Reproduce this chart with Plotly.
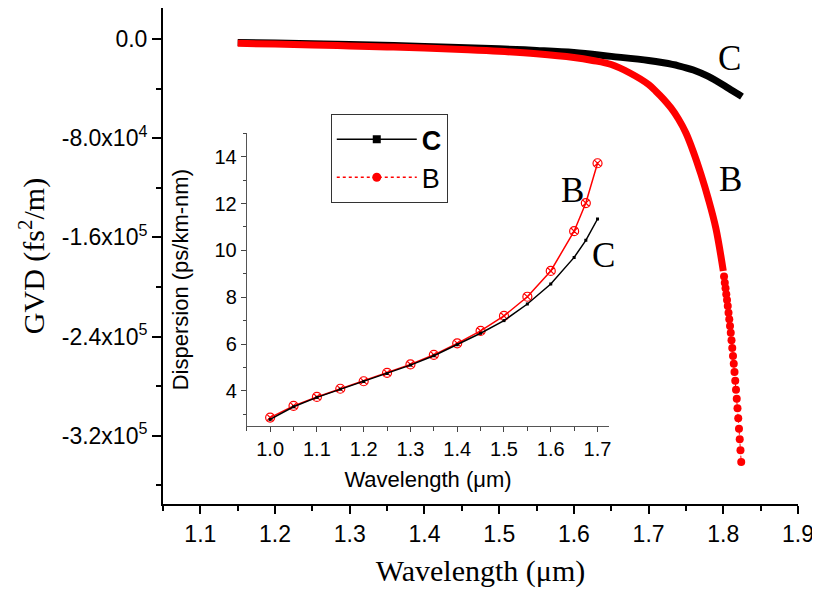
import plotly.graph_objects as go

# ---- main plot data: GVD (fs^2/m) vs wavelength (um) ----
c_wl = [1.15, 1.2, 1.3, 1.4, 1.5, 1.55, 1.6, 1.65, 1.7, 1.72, 1.74, 1.76, 1.78, 1.79, 1.8, 1.81, 1.82, 1.825]
c_gvd = [-2800, -3300, -4400, -6000, -7900, -9200, -10900, -14000, -17300, -19200, -21600, -25000,
         -30200, -33500, -37100, -40900, -44600, -46500]

b_wl = [1.15, 1.2, 1.25, 1.3, 1.35, 1.4, 1.45, 1.5, 1.55, 1.6, 1.625, 1.65, 1.675, 1.7, 1.71, 1.72,
        1.73, 1.74, 1.75, 1.76, 1.77, 1.78, 1.79, 1.8]
b_gvd = [-3500, -4100, -4800, -5600, -6400, -7300, -8500, -9900, -11900, -14900, -17300, -20600,
         -27400, -36700, -42300, -48400, -55600, -64500, -75800, -91100, -108900, -129000, -152400, -187100]

b_tail_wl = [1.801, 1.802, 1.803, 1.804, 1.805, 1.806, 1.807, 1.808, 1.809, 1.810, 1.811, 1.812,
             1.813, 1.814, 1.815, 1.816, 1.817, 1.818, 1.819, 1.820, 1.821, 1.822, 1.823, 1.824]
b_tail_gvd = [-191500, -196500, -201000, -205900, -210500, -215300, -220700, -226000, -231500,
              -236900, -243000, -249200, -255600, -261900, -268500, -275600, -282800, -290100,
              -297800, -305900, -314300, -322800, -331700, -341100]

# ---- inset data: Dispersion (ps/km-nm) ----
inset_wl = [1.0, 1.05, 1.1, 1.15, 1.2, 1.25, 1.3, 1.35, 1.4, 1.45, 1.5, 1.55, 1.6, 1.65, 1.675, 1.7]
disp_b = [2.86, 3.36, 3.74, 4.09, 4.41, 4.77, 5.13, 5.54, 6.03, 6.56, 7.2, 8.02, 9.12, 10.82, 12.02, 13.72]
disp_c = [2.78, 3.32, 3.72, 4.07, 4.4, 4.74, 5.1, 5.5, 5.97, 6.46, 7.0, 7.71, 8.56, 9.70, 10.43, 11.34]

y_tickvals = [0, -80000, -160000, -240000, -320000]
y_ticktext = ["0.0", "-8.0x10<sup>4</sup>", "-1.6x10<sup>5</sup>", "-2.4x10<sup>5</sup>", "-3.2x10<sup>5</sup>"]
inset_yticks = [4, 6, 8, 10, 12, 14]

SANS = "Liberation Sans, Arial, sans-serif"
SERIF = "Liberation Serif, Times New Roman, serif"

fig = go.Figure()

# main curves
fig.add_trace(go.Scatter(x=c_wl, y=c_gvd, mode="lines",
                         line=dict(color="black", width=7, shape="spline"), showlegend=False))
fig.add_trace(go.Scatter(x=b_wl, y=b_gvd, mode="lines",
                         line=dict(color="red", width=7, shape="spline"), showlegend=False))
fig.add_trace(go.Scatter(x=b_tail_wl, y=b_tail_gvd, mode="lines+markers",
                         line=dict(color="red", width=1, dash="dot"),
                         marker=dict(color="red", size=8), showlegend=False))

# legend entries
fig.add_trace(go.Scatter(x=[None], y=[None], mode="lines+markers", name="<b>C</b>",
                         line=dict(color="black", width=1.5),
                         marker=dict(symbol="square", size=8, color="black")))
fig.add_trace(go.Scatter(x=[None], y=[None], mode="lines+markers", name="B",
                         line=dict(color="red", width=1.5, dash="dot"),
                         marker=dict(symbol="circle", size=9, color="red")))

# inset curves
fig.add_trace(go.Scatter(x=inset_wl, y=disp_b, xaxis="x2", yaxis="y2", mode="lines+markers",
                         line=dict(color="red", width=1.5),
                         marker=dict(symbol="circle-x-open", size=9, color="red", line=dict(width=1.2)),
                         showlegend=False))
fig.add_trace(go.Scatter(x=inset_wl, y=disp_c, xaxis="x2", yaxis="y2", mode="lines+markers",
                         line=dict(color="black", width=1.5),
                         marker=dict(symbol="square", size=3, color="black"),
                         showlegend=False))

fig.update_layout(
    width=812, height=583,
    margin=dict(l=155, r=22, t=0, b=87),
    plot_bgcolor="white", paper_bgcolor="white",
    xaxis=dict(
        range=[1.05, 1.9], tick0=1.0, dtick=0.1, tickformat=".1f", automargin=False,
        ticks="outside", ticklen=8, tickwidth=2, tickcolor="black",
        showline=True, linewidth=2, linecolor="black", showgrid=False, zeroline=False,
        minor=dict(tick0=1.0, dtick=0.05, ticks="outside", ticklen=5, tickwidth=2, tickcolor="black"),
        tickfont=dict(family=SANS, size=23, color="black"),
        title=dict(text="Wavelength (μm)", font=dict(family=SERIF, size=30, color="black"), standoff=14),
    ),
    yaxis=dict(
        range=[-375000, 25000], tickmode="array", tickvals=y_tickvals, ticktext=y_ticktext, automargin=False,
        ticks="outside", ticklen=9, tickwidth=2, tickcolor="black",
        showline=True, linewidth=2, linecolor="black", showgrid=False, zeroline=False,
        minor=dict(tick0=0, dtick=40000, ticks="outside", ticklen=5, tickwidth=2, tickcolor="black"),
        tickfont=dict(family=SANS, size=23, color="black"),
        title=dict(text="GVD (fs<sup>2</sup>/m)", font=dict(family=SERIF, size=30, color="black"), standoff=8),
    ),
    xaxis2=dict(
        domain=[0.1319, 0.7027], anchor="y2", range=[0.95, 1.725], tick0=1.0, dtick=0.1, tickformat=".1f",
        automargin=False,
        ticks="outside", ticklen=5, tickwidth=1, tickcolor="#444",
        showline=True, linewidth=1, linecolor="#555", showgrid=False, zeroline=False,
        minor=dict(tick0=1.0, dtick=0.05, ticks="outside", ticklen=4, tickwidth=1, tickcolor="#444"),
        tickfont=dict(family=SANS, size=20, color="black"),
        title=dict(text="Wavelength (μm)", font=dict(family=SANS, size=22, color="black"), standoff=12),
    ),
    yaxis2=dict(
        domain=[0.1573, 0.7474], anchor="x2", range=[2.5, 15], tickmode="array", tickvals=inset_yticks,
        automargin=False,
        ticks="outside", ticklen=5, tickwidth=1, tickcolor="#444",
        showline=True, linewidth=1, linecolor="#555", showgrid=False, zeroline=False,
        minor=dict(tick0=0, dtick=1, ticks="outside", ticklen=3, tickwidth=1, tickcolor="#444"),
        tickfont=dict(family=SANS, size=20, color="black"),
        title=dict(text="Dispersion (ps/km-nm)", font=dict(family=SANS, size=22, color="black"), standoff=19),
    ),
    legend=dict(x=0.2642, y=0.786, xanchor="left", yanchor="top",
                font=dict(family=SANS, size=27, color="black"),
                bgcolor="white", bordercolor="#333", borderwidth=1, itemwidth=80),
    annotations=[
        dict(x=1.808, y=-16100, xref="x", yref="y", text="C", showarrow=False,
             font=dict(family=SERIF, size=35, color="black")),
        dict(x=1.8095, y=-113300, xref="x", yref="y", text="B", showarrow=False,
             font=dict(family=SERIF, size=35, color="black")),
        dict(x=1.6465, y=12.55, xref="x2", yref="y2", text="B", showarrow=False,
             font=dict(family=SERIF, size=35, color="black")),
        dict(x=1.7125, y=9.77, xref="x2", yref="y2", text="C", showarrow=False,
             font=dict(family=SERIF, size=35, color="black")),
    ],
)

fig.write_html("out.html")
